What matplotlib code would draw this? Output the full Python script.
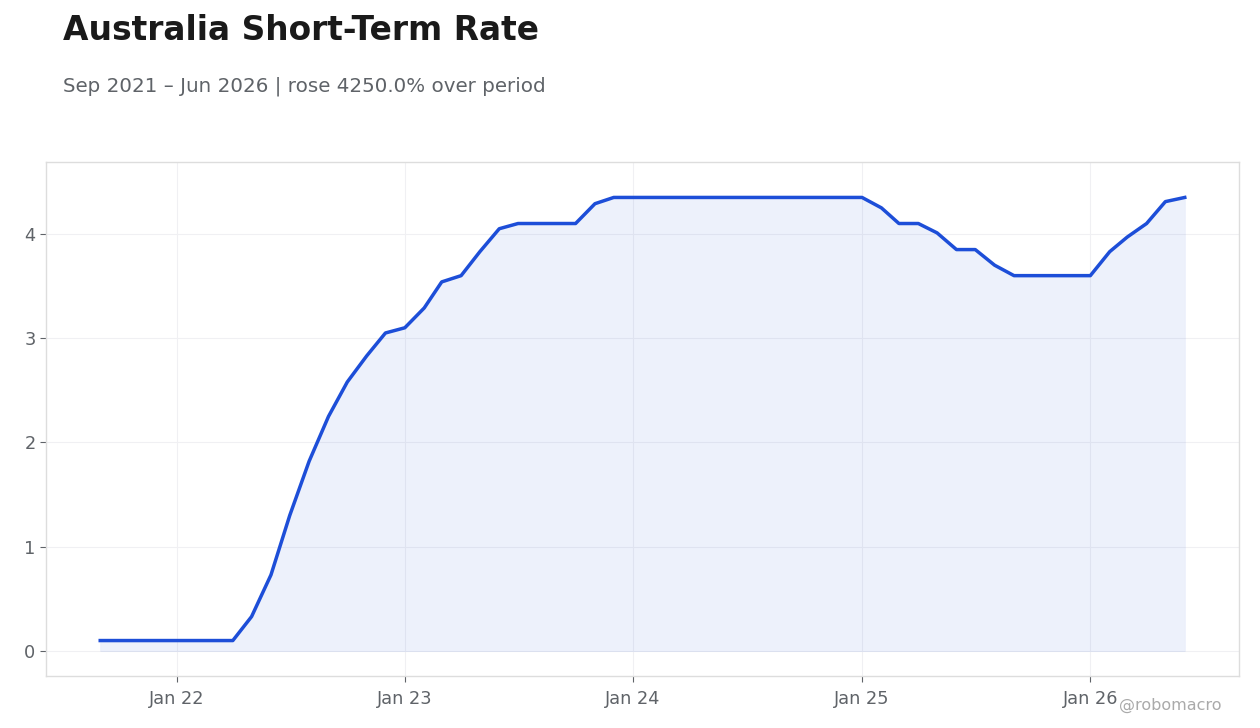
import numpy as np
import pandas as pd
import matplotlib
matplotlib.use('Agg')
import matplotlib.pyplot as plt
import matplotlib.dates as mdates

# monthly short-term rate, Sep 2021 - Jun 2026
dates = pd.date_range('2021-09-01', '2026-06-01', freq='MS')
rate = [0.10, 0.10, 0.10, 0.10,
        0.10, 0.10, 0.10, 0.10, 0.33, 0.73, 1.30, 1.82, 2.25, 2.58, 2.83, 3.05,
        3.10, 3.29, 3.54, 3.60, 3.83, 4.05, 4.10, 4.10, 4.10, 4.10, 4.29, 4.35,
        4.35, 4.35, 4.35, 4.35, 4.35, 4.35, 4.35, 4.35, 4.35, 4.35, 4.35, 4.35,
        4.35, 4.25, 4.10, 4.10, 4.01, 3.85, 3.85, 3.70, 3.60, 3.60, 3.60, 3.60,
        3.60, 3.83, 3.97, 4.10, 4.31, 4.35]

title = 'Australia Short-Term Rate'
subtitle = 'Sep 2021 – Jun 2026 | rose 4250.0% over period'

line_col = '#1d4ed8'
grey = '#5f6368'

fig = plt.figure(figsize=(12.6, 7.28), dpi=100)
ax = fig.add_axes([46/1260, 1 - 676/728, (1239-46)/1260, (676-162)/728])

ax.fill_between(dates, rate, 0, facecolor=line_col, alpha=0.08, edgecolor=line_col, linewidth=0.5)
ax.plot(dates, rate, color=line_col, linewidth=2.5)

ax.set_ylim(-0.24, 4.69)
ax.set_yticks([0, 1, 2, 3, 4])
ax.xaxis.set_major_locator(mdates.YearLocator())
ax.xaxis.set_major_formatter(mdates.DateFormatter('Jan %y'))

ax.grid(True, color='#f0f0f3', linewidth=0.8)
ax.set_axisbelow(True)
for s in ax.spines.values():
    s.set_color('#dddddd')
    s.set_linewidth(1)
ax.tick_params(axis='both', labelsize=12.8, labelcolor=grey, color=grey, length=4, width=0.8)
ax.tick_params(axis='x', pad=6)

fig.text(63/1260, 1 - 30/728, title, fontsize=23.7, fontweight='bold', color='#1a1a1a', va='center')
fig.text(63/1260, 1 - 86/728, subtitle, fontsize=14.3, color=grey, va='center')
fig.text(1222/1260, 1 - 705/728, '@robomacro', fontsize=11.5, color='#aaaaaa', ha='right', va='center')

fig.savefig('out.png', dpi=100)
